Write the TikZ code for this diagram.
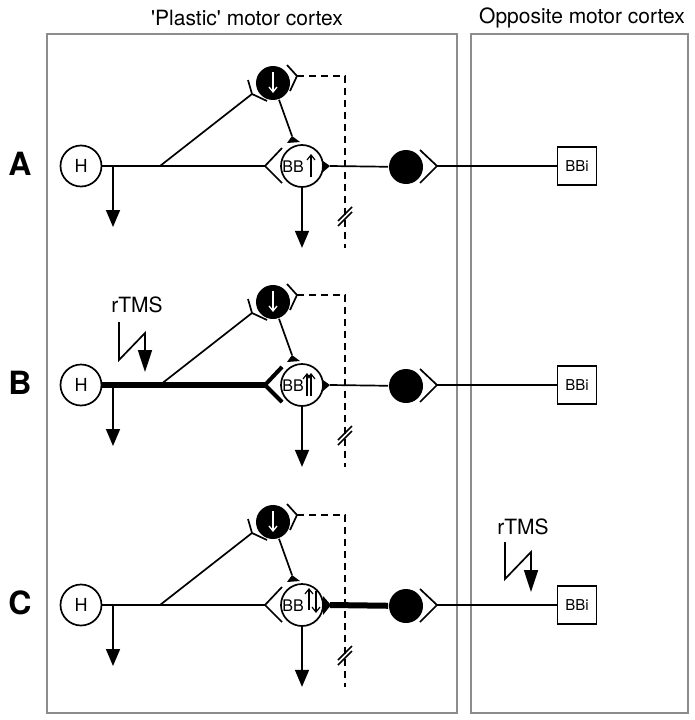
\documentclass[tikz,border=0pt]{standalone}
\usepackage{fontspec}
\newfontfamily\helv{TeX Gyre Heros}
\usetikzlibrary{arrows.meta}

\begin{document}
\begin{tikzpicture}[x=1pt, y=-1pt, line width=1.7pt,
    cell/.style={draw, circle, inner sep=0pt, minimum size=41pt, font=\helv\fontsize{18}{18}\selectfont},
    bbcell/.style={draw, circle, inner sep=0pt, minimum size=42pt},
    bbtext/.style={inner sep=0pt, font=\helv\fontsize{16}{16}\selectfont},
    relay/.style={circle, fill=black, inner sep=0pt, minimum size=34pt},
    bbibox/.style={draw, inner sep=0pt, minimum width=39pt, minimum height=38pt, font=\helv\fontsize{15}{15}\selectfont},
    panel/.style={draw=black!45, line width=1.2pt},
    head/.style={font=\helv\fontsize{21}{21}\selectfont},
    rowlabel/.style={font=\helv\bfseries\fontsize{32}{32}\selectfont},
    outarrow/.style={-{Triangle[width=14pt,length=17pt]}},
    inarrow/.style={line width=1.2pt, -{Straight Barb[length=5pt,width=8pt]}},
    tmsarrow/.style={-{Triangle[width=14pt,length=22pt]}, line join=miter},
    breakline/.style={dash pattern=on 7pt off 5pt}]
    \useasboundingbox (0,0) rectangle (694,720);

    % Panels
    \draw[panel] (47,34) rectangle (457,713);
    \draw[panel] (471,34) rectangle (688,713);
    \node[head] (plastic) at (247,18) {'Plastic' motor cortex};
    \node[head] (opposite) at (582,18) {Opposite motor cortex};

    % One row of the circuit per condition
    \foreach \r/\y in {A/166,B/385,C/605}
    {
        \begin{scope}[shift={(0,\y)}]
            \node[rowlabel] (lab\r) at (20,-2) {\r};
            \node[cell] (H\r) at (81,0) {H};
            \node[bbcell] (BB\r) at (302,0) {};
            \node[bbtext] (bbt\r) at (293,1) {BB};
            \node[relay] (N\r) at (273,-83) {};
            \node[relay] (R\r) at (406,1) {};
            \node[bbibox] (BBi\r) at (577,0) {BBi};
            \coordinate (chL\r) at (265,0);
            \coordinate (fork\r) at (160,0);
            \coordinate (drop\r) at (113,0);
            \coordinate (ychev\r) at (252,-72);
            \coordinate (nchev\r) at (297,-90);
            \coordinate (rchev\r) at (437,0);
            \coordinate (bbout\r) at (330,0);
            \coordinate (syn\r) at (292,-30);

            % Axons
            \draw (H\r) -- (chL\r);
            \draw (fork\r) -- (ychev\r);
            \draw[outarrow] (drop\r) -- ++(0,61);
            \draw[outarrow] (BB\r.south) -- ++(0,60);
            \draw (N\r) -- (syn\r);
            \draw (bbout\r) -- (R\r);
            \draw (rchev\r) -- (BBi\r);

            % Chevrons
            \draw (282,-18) -- (chL\r) -- (282,17);
            \draw (248,-86) -- (ychev\r) -- (267,-65);
            \draw (287,-101) -- (nchev\r) -- (290,-75);
            \draw (420,-16) -- (rchev\r) -- (420,17);

            % Terminals
            \fill (287,-23) -- (300,-24) -- (syn\r) -- cycle;
            \fill (323,-5) -- (bbout\r) -- (323,6) -- cycle;

            % Inhibitory neuron
            \draw[white, line width=1.3pt, -{Straight Barb[length=5pt,width=8pt]}] (273,-94) -- (273,-73);

            % Dashed link and break
            \draw[breakline] (nchev\r) -- (345,-90) -- (345,82);
            \draw (338,60) -- (352,46);
            \draw (338,55) -- (352,41);
        \end{scope}
    }

    % A
    \begin{scope}[shift={(0,166)}]
        \draw[inarrow] (311,11) -- (311,-12);
    \end{scope}

    % B
    \begin{scope}[shift={(0,385)}]
        \draw[inarrow] (307,11) -- (307,-12);
        \draw[inarrow] (311,11) -- (311,-12);
        \draw[line width=6pt] (HB) -- (chLB);
        \draw[line width=4pt] (282,-18) -- (chLB) -- (282,17);
    \end{scope}
    \node[head] (tmsB) at (137,305) {rTMS};
    \draw[tmsarrow] (119,322) -- (119,360) -- (145,333) -- (145,372);

    % C
    \begin{scope}[shift={(0,605)}]
        \draw[inarrow] (309,5) -- (309,-17);
        \draw[inarrow] (316,-14) -- (316,8);
        \draw[line width=6pt] (bboutC) -- (RC);
        \fill (323,-9) -- (331,0) -- (323,10) -- cycle;
    \end{scope}
    \node[head] (tmsC) at (523,527) {rTMS};
    \draw[tmsarrow] (505,542) -- (505,579) -- (531,552) -- (531,592);
\end{tikzpicture}
\end{document}
